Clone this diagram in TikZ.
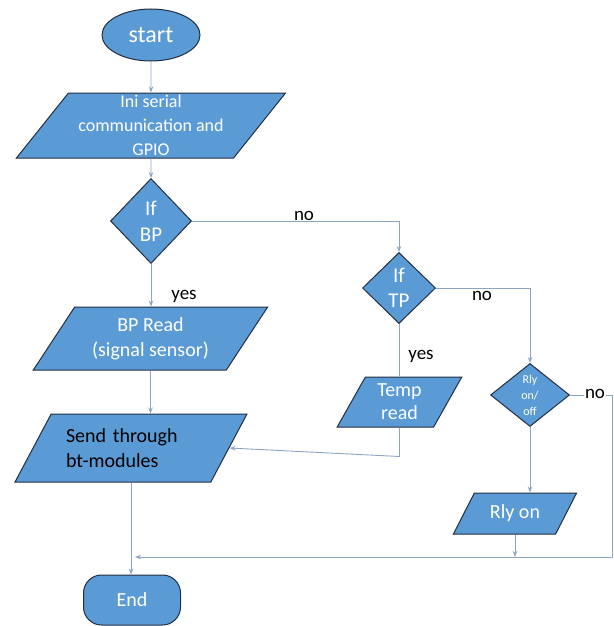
\documentclass[tikz,border=0pt]{standalone}
\usepackage{fontspec}
\setmainfont{Carlito}
\usetikzlibrary{arrows.meta, shapes.geometric}

\definecolor{boxblue}{RGB}{91,155,213}
\definecolor{boxedge}{RGB}{35,45,65}
\definecolor{linkblue}{RGB}{140,165,195}

\begin{document}
\begin{tikzpicture}[
    x=1pt, y=-1pt,
    >={Stealth[length=6pt,width=4.5pt]},
    shapebase/.style={draw=boxedge, fill=boxblue, line width=1pt, text=white, inner sep=0pt, align=center},
    term/.style={shapebase, ellipse, minimum width=98pt, minimum height=52pt, font=\fontsize{24}{28}\selectfont},
    endbox/.style={shapebase, rectangle, rounded corners=18pt, minimum width=97pt, minimum height=50pt, font=\fontsize{20}{24}\selectfont},
    para/.style={shapebase, trapezium, trapezium left angle=53, trapezium right angle=127, trapezium stretches=true},
    dec/.style={shapebase, diamond, font=\fontsize{21}{26}\selectfont},
    flow/.style={->, draw=linkblue, line width=0.9pt},
    link/.style={draw=linkblue, line width=0.9pt},
    lbl/.style={inner sep=1pt, font=\fontsize{19}{22}\selectfont}
  ]
    \useasboundingbox (0,0) rectangle (613,626);

    % nodes
    \node[term] (start) at (151,35) {start};
    \node[para, minimum width=270pt, minimum height=65pt, font=\fontsize{18}{24}\selectfont] (ini) at (151,125.5)
      {Ini serial\\communication and\\GPIO};
    \node[dec, minimum width=81pt, minimum height=85pt] (bp) at (151,221) {If\\BP};
    \node[para, minimum width=235pt, minimum height=63pt, font=\fontsize{20}{25}\selectfont] (bpread) at (150.5,338.5)
      {BP Read\\(signal sensor)};
    \node[para, minimum width=232pt, minimum height=68pt, text=black, text width=130pt, align=left,
      font=\fontsize{20}{25}\selectfont] (send) at (131,448) {Send through\\bt-modules};
    \node[dec, minimum width=73pt, minimum height=71pt, font=\fontsize{21}{25}\selectfont] (tp) at (399,288) {If\\TP};
    \node[para, trapezium left angle=63, trapezium right angle=117, minimum width=125pt, minimum height=50pt,
      font=\fontsize{20}{23}\selectfont] (temp) at (399.5,402) {Temp\\read};
    \node[dec, minimum width=79pt, minimum height=63pt, font=\fontsize{12}{16}\selectfont] (rly) at (530,395) {Rly\\on/\\off};
    \node[para, minimum width=124pt, minimum height=41pt, font=\fontsize{20}{24}\selectfont] (rlyon) at (515,513.5) {Rly on};
    \node[endbox] (end) at (132,600) {End};
    \coordinate (merge) at (135,557);

    % connectors
    \draw[flow] (start) -- (ini);
    \draw[flow] (ini) -- (bp);
    \draw[flow] (bp.east) -| (tp.north);
    \draw[flow] (bp.south) -- (bp.south |- bpread.north);
    \draw[flow] (tp.east) -| (rly.north);
    \draw[link] (tp.south) -- (tp.south |- temp.north);
    \draw[flow] (bpread.south) -- (bpread.south |- send.north);
    \draw[flow] (temp.south) -- ++(0,29) -- (send.east);
    \draw[flow] (rly.south) -- (rly.south |- rlyon.north);
    \draw[flow] (rly.east) -- ++(42,0) |- (merge);
    \draw[flow] (rlyon.south) -- (rlyon.south |- merge);
    \draw[flow] (send.south) -- (send.south |- end.north);

    % branch labels
    \node[lbl] (bpno) at (304,216) {no};
    \node[lbl] (bpyes) at (184,296) {yes};
    \node[lbl] (tpno) at (482,296) {no};
    \node[lbl] (tpyes) at (421,356) {yes};
    \node[lbl, fill=white] (rlyno) at (595,394) {no};
  \end{tikzpicture}
\end{document}
